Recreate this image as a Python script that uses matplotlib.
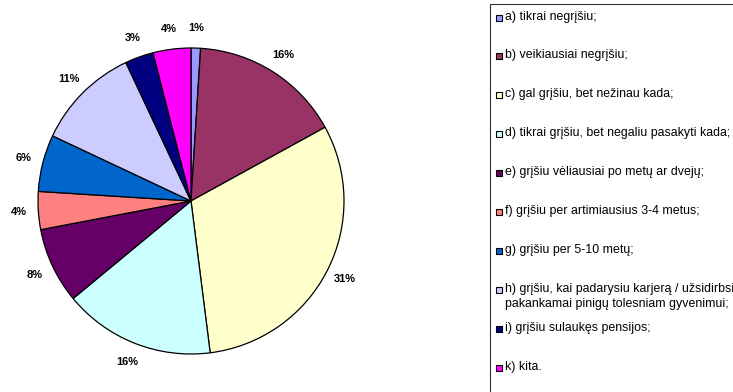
import matplotlib.pyplot as plt
from matplotlib.patches import Rectangle

plt.rcParams['font.family'] = ['Liberation Sans', 'DejaVu Sans']

# answer shares, %
labels = ['a) tikrai negrįšiu;',
          'b) veikiausiai negrįšiu;',
          'c) gal grįšiu, bet nežinau kada;',
          'd) tikrai grįšiu, bet negaliu pasakyti kada;',
          'e) grįšiu vėliausiai po metų ar dvejų;',
          'f) grįšiu per artimiausius 3-4 metus;',
          'g) grįšiu per 5-10 metų;',
          'h) grįšiu, kai padarysiu karjerą / užsidirbsiu\npakankamai pinigų tolesniam gyvenimui;',
          'i) grįšiu sulaukęs pensijos;',
          'k) kita.']
shares = [1, 16, 31, 16, 8, 4, 6, 11, 3, 4]
colors = ['#9999FF', '#993366', '#FFFFCC', '#CCFFFF', '#660066',
          '#FF8080', '#0066CC', '#CCCCFF', '#000080', '#FF00FF']

W, H = 733, 392
fig = plt.figure(figsize=(W / 100, H / 100), dpi=100)
fig.patch.set_facecolor('white')

# axes in pixel units
ax = fig.add_axes([0, 0, 1, 1])
ax.set_xlim(0, W)
ax.set_ylim(0, H)
ax.set_aspect('equal')
ax.axis('off')

wedges, texts, pcts = ax.pie(shares, colors=colors, center=(191, H - 201), radius=153,
                             startangle=90, counterclock=False,
                             autopct='%1.0f%%', pctdistance=1.13,
                             wedgeprops=dict(edgecolor='black', linewidth=0.9),
                             textprops=dict(fontsize=8, fontweight='bold', color='black'))
ax.set_xlim(0, W)
ax.set_ylim(0, H)

# legend box, runs off the right and bottom edge
ax.add_patch(Rectangle((490, -30), 300, H - 4 + 30, facecolor='white',
                       edgecolor='#333333', linewidth=0.8, clip_on=False))

y0, step = 17.5, 38.9
for i, (lab, col) in enumerate(zip(labels, colors)):
    y = H - (y0 + i * step)
    ax.add_patch(Rectangle((496, y - 3), 6, 6, facecolor=col,
                           edgecolor='black', linewidth=0.8))
    ax.text(505, y + 7, lab, fontsize=8.9, ha='left', va='top',
            linespacing=1.3, clip_on=False)

fig.savefig('out.png', dpi=100)
